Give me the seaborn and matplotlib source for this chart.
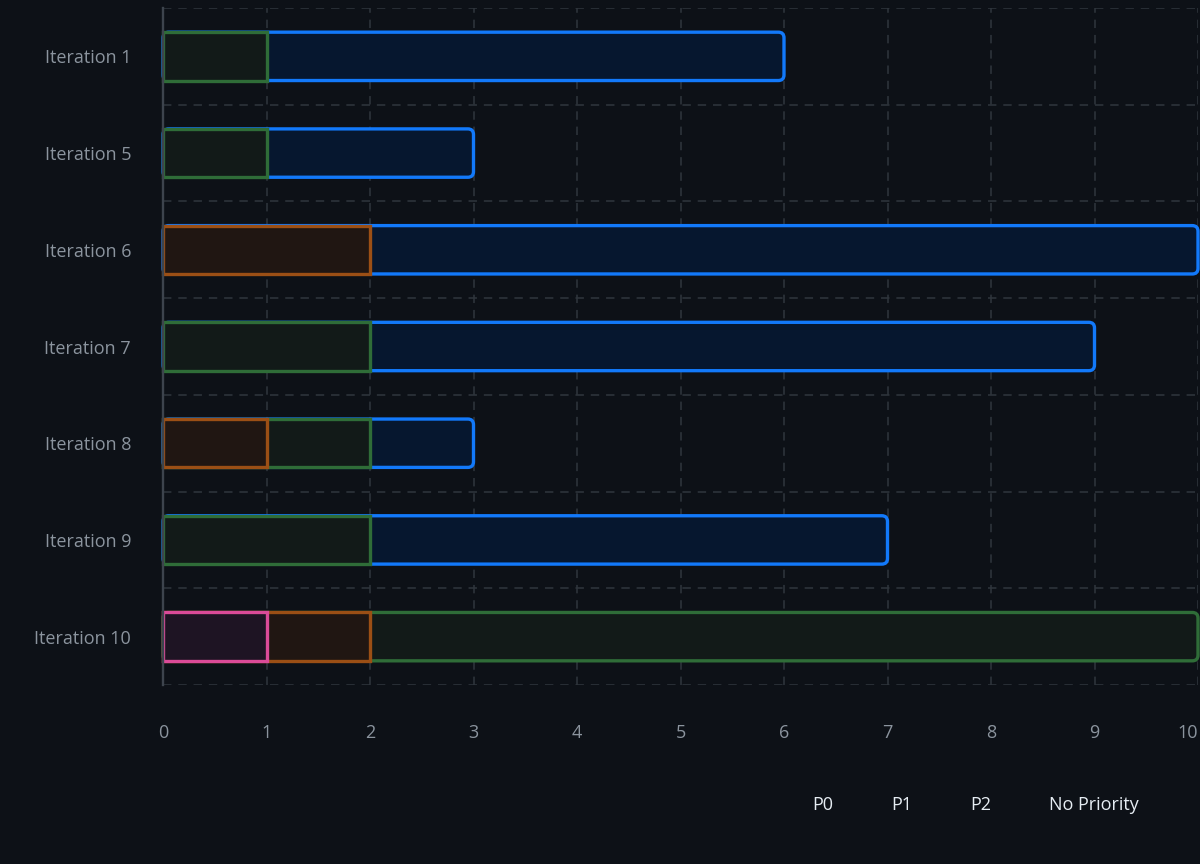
import matplotlib
matplotlib.use("Agg")
import matplotlib.pyplot as plt
from matplotlib.patches import FancyBboxPatch, Patch
import numpy as np
import pandas as pd
import seaborn as sns

# Data: issue counts per priority for each iteration
iterations = ["Iteration 1", "Iteration 5", "Iteration 6", "Iteration 7",
              "Iteration 8", "Iteration 9", "Iteration 10"]
priorities = ["P0", "P1", "P2", "No Priority"]
p0 = [0, 0, 0, 0, 0, 0, 1]
p1 = [0, 0, 2, 0, 1, 0, 1]
p2 = [1, 1, 0, 2, 1, 2, 8]
no_priority = [5, 2, 8, 7, 1, 5, 0]
x_ticks = list(range(0, 11))

BG = "#0d1117"
GRID = "#30363d"
SPINE = "#3d444d"
TICK = "#8b949e"
TEXT = "#e6edf3"
edge_colors = {"P0": "#db4b98", "P1": "#9b4f15", "P2": "#2f6d38", "No Priority": "#1279fa"}
fill_colors = {"P0": "#1e1423", "P1": "#201612", "P2": "#121a18", "No Priority": "#06172f"}
LW = 2.4

sns.set_theme(style="dark", rc={"axes.facecolor": BG, "figure.facecolor": BG})
plt.rcParams["font.family"] = ["Open Sans", "DejaVu Sans"]

counts = pd.DataFrame({"P0": p0, "P1": p1, "P2": p2, "No Priority": no_priority},
                      index=iterations)
ends = counts.cumsum(axis=1)
# last non-empty priority of each row gets the rounded end
last_series = counts.apply(lambda r: [c for c in priorities if r[c] > 0][-1], axis=1)

fig = plt.figure(figsize=(12, 8.64), dpi=100)
ax = fig.add_axes([163 / 1200, 1 - 685 / 864, 1035 / 1200, 677 / 864])

# draw cumulative bars back to front so earlier segments sit on top
for z, name in enumerate(reversed(priorities), start=2):
    df = pd.DataFrame({"iteration": iterations,
                       "end": ends[name].where(counts[name] > 0).values})
    n0 = len(ax.patches)
    sns.barplot(data=df, x="end", y="iteration", order=iterations, orient="h",
                width=0.5, color=fill_colors[name], saturation=1,
                edgecolor=edge_colors[name], linewidth=LW, errorbar=None, ax=ax)
    new = list(ax.patches[n0:])
    for p in new:
        p.set_zorder(z)
        p.set_clip_on(False)
        row = int(round(p.get_y() + p.get_height() / 2))
        if last_series.iloc[row] == name:
            fb = FancyBboxPatch((p.get_x(), p.get_y()), p.get_width(), p.get_height(),
                                boxstyle="round,pad=0,rounding_size=0.055",
                                mutation_aspect=1.07,
                                facecolor=fill_colors[name], edgecolor=edge_colors[name],
                                linewidth=LW, zorder=z, clip_on=False)
            p.remove()
            ax.add_patch(fb)

ax.set_xlim(0, 10)
ax.set_ylim(6.5, -0.5)
ax.set_xticks(x_ticks)
ax.set_xticklabels([str(t) for t in x_ticks])
ax.get_xticklabels()[-1].set_horizontalalignment("right")
ax.set_yticks(np.arange(-0.5, len(iterations), 1), minor=True)
ax.set_axisbelow(True)
ax.xaxis.grid(True, color=GRID, linestyle=(0, (5.5, 4.5)), linewidth=1.1)
ax.yaxis.grid(True, which="minor", color=GRID, linestyle=(0, (5.5, 4.5)), linewidth=1.1)
ax.yaxis.grid(False, which="major")
ax.set_xlabel("")
ax.set_ylabel("")

for s in ["top", "right", "bottom"]:
    ax.spines[s].set_visible(False)
ax.spines["left"].set_color(SPINE)
ax.spines["left"].set_linewidth(1.7)
ax.spines["left"].set_zorder(10)

ax.tick_params(axis="x", which="both", length=0, pad=28, labelsize=13, labelcolor=TICK)
ax.tick_params(axis="y", which="both", length=0, pad=23, labelsize=13, labelcolor=TICK)

handles = [Patch(facecolor="none", edgecolor="none") for _ in priorities]
fig.legend(handles, priorities, loc="center left",
           bbox_to_anchor=(812 / 1200, 1 - 805 / 864), ncol=4, frameon=False,
           handlelength=0, handletextpad=0, columnspacing=3.22, borderpad=0,
           borderaxespad=0, fontsize=13, labelcolor=TEXT)

fig.savefig("out.png", dpi=100, facecolor=BG)
